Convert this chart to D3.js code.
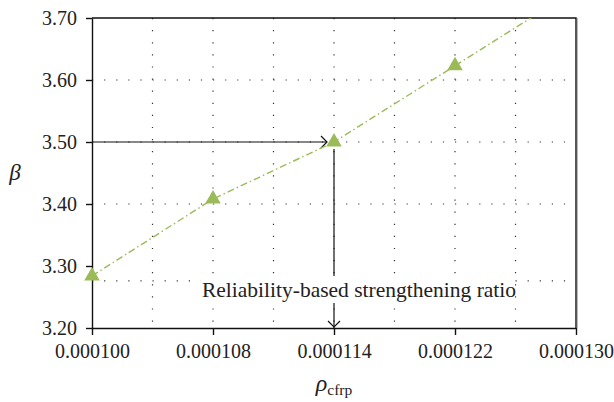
<script src="https://cdn.jsdelivr.net/npm/d3@7"></script>
<style>
  body { margin: 0; background: #fff; }
  svg text { font-family: "Liberation Serif", "DejaVu Serif", serif; fill: #222; }
</style>
<svg id="chart"></svg>
<script>
// data (x is categorical: evenly spaced labels)
const xLabels = ["0.000100", "0.000108", "0.000114", "0.000122", "0.000130"];
const betaValues = [3.284, 3.408, 3.500, 3.623, 3.746]; // last point sits above the plot and is clipped
const yTicks = [3.20, 3.30, 3.40, 3.50, 3.60, 3.70];
const gridY = [3.60, 3.50, 3.40, 3.276];
const targetIndex = 2;          // 0.000114
const targetBeta = 3.50;
const noteText = "Reliability-based strengthening ratio";

const W = 614, H = 402;
const margin = { left: 92, right: 38, top: 18, bottom: 74 };
const iw = W - margin.left - margin.right;
const ih = H - margin.top - margin.bottom;
const serif = "'Liberation Serif', 'DejaVu Serif', serif";

const svg = d3.select("#chart").attr("width", W).attr("height", H);
const g = svg.append("g").attr("transform", `translate(${margin.left},${margin.top})`);

const x = d3.scaleLinear().domain([0, xLabels.length - 1]).range([0, iw]);
const y = d3.scaleLinear().domain([3.2, 3.7]).range([ih, 0]);

// clip only the top (the series runs off the top edge)
svg.append("defs").append("clipPath").attr("id", "plotclip")
  .append("rect").attr("x", -20).attr("y", 0).attr("width", iw + 20).attr("height", ih + 20);

// dotted grid
const gridX = d3.range(0, xLabels.length - 0.99, 0.5);
g.append("g").selectAll("line").data(gridX.slice(1, -1)).join("line")
  .attr("x1", d => x(d)).attr("x2", d => x(d))
  .attr("y1", 0).attr("y2", ih)
  .attr("stroke", "#333").attr("stroke-width", 1.2)
  .attr("stroke-dasharray", "1.2,10.9");
g.append("g").selectAll("line").data(gridY).join("line")
  .attr("x1", 0).attr("x2", iw)
  .attr("y1", d => y(d)).attr("y2", d => y(d))
  .attr("stroke", "#333").attr("stroke-width", 1.2)
  .attr("stroke-dasharray", "1.2,10.9");

// arrows
const ax = x(targetIndex), ay = y(targetBeta);
g.append("line").attr("x1", 0).attr("x2", ax - 7).attr("y1", ay).attr("y2", ay)
  .attr("stroke", "#111").attr("stroke-width", 1.2);
g.append("path").attr("d", `M${ax - 13},${ay - 6}L${ax - 7},${ay}L${ax - 13},${ay + 6}`)
  .attr("fill", "none").attr("stroke", "#111").attr("stroke-width", 1.2);
g.append("line").attr("x1", ax).attr("x2", ax).attr("y1", ay + 7).attr("y2", ih)
  .attr("stroke", "#111").attr("stroke-width", 1.2);
g.append("path").attr("d", `M${ax - 6},${ih - 7}L${ax},${ih - 1}L${ax + 6},${ih - 7}`)
  .attr("fill", "none").attr("stroke", "#111").attr("stroke-width", 1.2);

// annotation box
const note = g.append("g").attr("transform", `translate(${ax + 25},${ih - 46})`);
note.append("rect").attr("x", -158).attr("y", -6).attr("width", 314).attr("height", 27).attr("fill", "#fff");
note.append("text").attr("text-anchor", "middle").attr("y", 15)
  .attr("font-family", serif).attr("font-size", 21.5).text(noteText);

// frame (top + right)
g.append("path").attr("d", `M0,0H${iw}V${ih}`).attr("fill", "none")
  .attr("stroke", "#111").attr("stroke-width", 1.4);
g.append("line").attr("x1", iw + 1.5).attr("x2", iw + 1.5).attr("y1", 0).attr("y2", ih)
  .attr("stroke", "#bbb").attr("stroke-width", 1);

// axes
const yAxis = g.append("g")
  .call(d3.axisLeft(y).tickValues(yTicks).tickFormat(d3.format(".2f")).tickSize(6).tickSizeOuter(0).tickPadding(9));
const xAxis = g.append("g").attr("transform", `translate(0,${ih})`)
  .call(d3.axisBottom(x).tickValues(d3.range(xLabels.length)).tickFormat(i => xLabels[i]).tickSize(7).tickSizeOuter(0).tickPadding(9));
[yAxis, xAxis].forEach(a => {
  a.attr("font-family", serif);
  a.select(".domain").attr("stroke", "#111").attr("stroke-width", 1.4);
  a.selectAll(".tick line").attr("stroke", "#111").attr("stroke-width", 1.4);
  a.selectAll(".tick text").attr("font-size", 20).attr("fill", "#222");
});

// series (drawn over the axes)
const plot = g.append("g").attr("clip-path", "url(#plotclip)");
const line = d3.line().x((d, i) => x(i)).y(d => y(d));
plot.append("path").datum(betaValues)
  .attr("d", line)
  .attr("fill", "none")
  .attr("stroke", "#9bbb59")
  .attr("stroke-width", 1.4)
  .attr("stroke-dasharray", "7,3,1.5,3");
const tri = d3.symbol().type(d3.symbolTriangle).size(105);
plot.selectAll(".pt").data(betaValues).join("path")
  .attr("class", "pt")
  .attr("d", tri)
  .attr("transform", (d, i) => `translate(${x(i)},${y(d)})`)
  .attr("fill", "#9bbb59");

// axis titles
svg.append("text").attr("x", 15).attr("y", 180).attr("font-family", serif)
  .attr("text-anchor", "middle").attr("font-size", 23).attr("font-style", "italic").text("β");
const xt = svg.append("text").attr("x", 334).attr("y", 391).attr("text-anchor", "middle").attr("font-family", serif);
xt.append("tspan").attr("font-size", 24).attr("font-style", "italic").text("ρ");
xt.append("tspan").attr("font-size", 15.5).attr("dy", 4).text("cfrp");
</script>
